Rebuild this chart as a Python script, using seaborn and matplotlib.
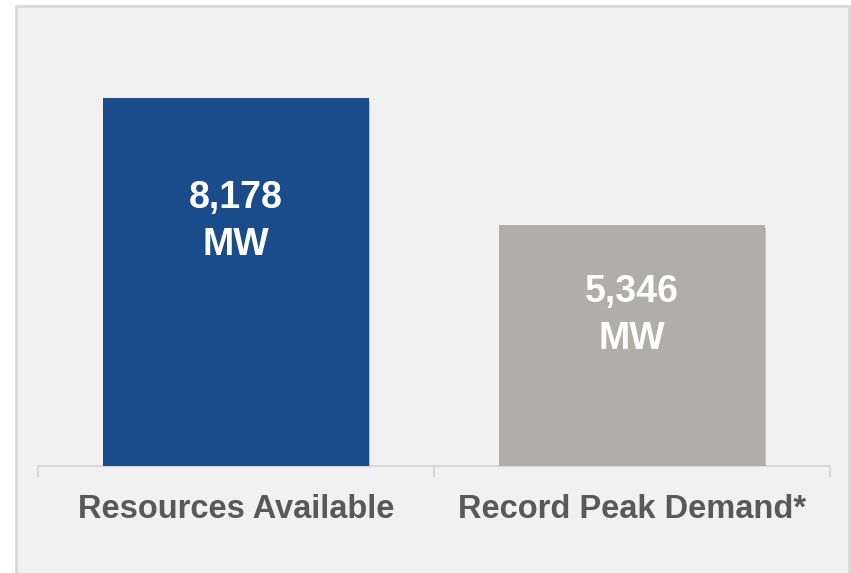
import matplotlib
matplotlib.use("Agg")
import matplotlib.pyplot as plt
import matplotlib.patheffects as pe
from matplotlib.patches import Rectangle
import seaborn as sns

# -----------------------------
# Data
# -----------------------------
categories = ["Resources Available", "Record Peak Demand*"]
values = [8178, 5346]
bar_colors = ["#1a4b8a", "#b0adab"]
value_labels = ["8,178\nMW", "5,346\nMW"]
label_heights = [5440, 3340]

sns.set_style("white")
plt.rcParams['font.family'] = ['Liberation Sans', 'DejaVu Sans']

fig = plt.figure(figsize=(8.51, 5.73), dpi=100, facecolor="white")

# panel background with border
fig.patches.append(Rectangle((16 / 851, -0.02), (849 - 16) / 851, 1.02 - 6 / 573,
                             transform=fig.transFigure, facecolor="#f1f1f1",
                             edgecolor="#d9d9d9", linewidth=2, zorder=-10))

ax = fig.add_axes([38 / 851, 1 - 466 / 573, (830 - 38) / 851, 405 / 573])
ax.set_facecolor("none")

# -----------------------------
# Bars
# -----------------------------
sns.barplot(x=categories, y=values, hue=categories, palette=bar_colors,
            legend=False, width=0.67, saturation=1, linewidth=0,
            edgecolor="none", ax=ax, zorder=3)

for p in ax.patches:
    p.set_path_effects([pe.SimplePatchShadow(offset=(1, -2), shadow_rgbFace="#555555", alpha=0.3),
                        pe.Normal()])

for i, (lbl, h) in enumerate(zip(value_labels, label_heights)):
    ax.text(i, h, lbl, ha="center", va="center", color="white",
            fontsize=27, fontweight="bold", linespacing=1.4, zorder=5)

# -----------------------------
# Axes styling
# -----------------------------
ax.set_xlim(-0.5, 1.5)
ax.set_ylim(0, 9000)
ax.set_yticks([])
for s in ["top", "right", "left"]:
    ax.spines[s].set_visible(False)
ax.spines["bottom"].set_color("#d9d9d9")
ax.spines["bottom"].set_linewidth(1.5)
ax.spines["bottom"].set_zorder(2)

ax.set_xticks([-0.5, 0.5, 1.5], minor=True)
ax.tick_params(axis="x", which="minor", bottom=True, length=8, width=1.5,
               color="#d9d9d9", direction="out")
ax.tick_params(axis="x", which="major", bottom=False, length=0, pad=20,
               labelsize=23.5, labelcolor="#595959")
for t in ax.get_xticklabels():
    t.set_fontweight("bold")

ax.set_xlabel("")
ax.set_ylabel("")

plt.savefig("out.png", dpi=100, facecolor="white")
